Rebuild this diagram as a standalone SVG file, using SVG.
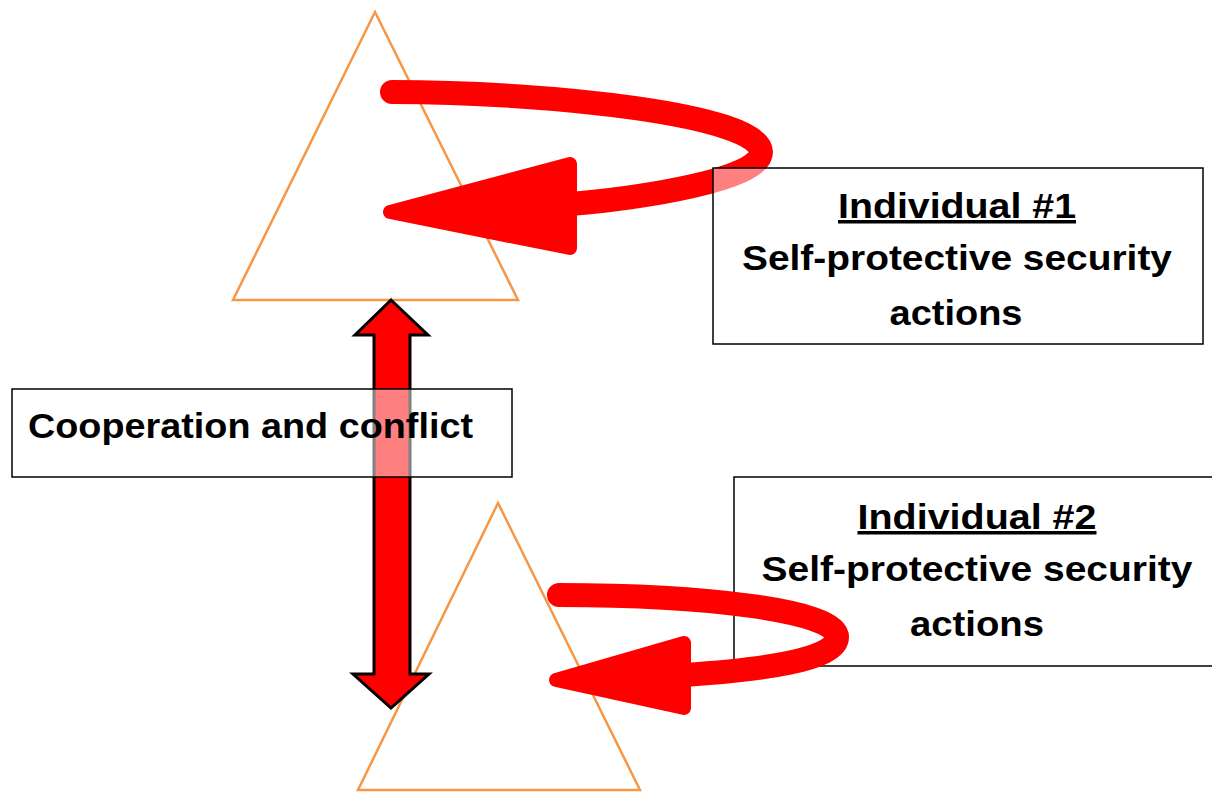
<svg xmlns="http://www.w3.org/2000/svg" width="1212" height="792" viewBox="0 0 1212 792">
<style>
.tri{fill:none;stroke:#F79646;stroke-width:2.5}
.box{fill:#fff;fill-opacity:0.5;stroke:#000;stroke-width:1.5}
.loop{fill:none;stroke:#f00;stroke-width:24;stroke-linecap:round}
.head{fill:#f00;stroke:#f00;stroke-width:14;stroke-linejoin:round}
.dbl{fill:#f00;stroke:#000;stroke-width:3;stroke-linejoin:miter}
text{font-family:"Liberation Sans",Arial,sans-serif;font-weight:bold;font-size:35px;fill:#000}
.c{text-anchor:middle}
</style>
<rect width="1212" height="792" fill="#fff"/>
<g id="triangle1"><polygon class="tri" points="375,12 518,300 233,300"/></g>
<g id="triangle2"><polygon class="tri" points="498,503 640,790 358,790"/></g>
<g id="individual2">
<rect class="box" x="734" y="477" width="490" height="189"/>
<text class="c" x="977" y="529" textLength="239" lengthAdjust="spacingAndGlyphs" text-decoration="underline">Individual #2</text>
<text class="c" x="977" y="581" textLength="431" lengthAdjust="spacingAndGlyphs">Self-protective security</text>
<text class="c" x="977" y="636" textLength="134" lengthAdjust="spacingAndGlyphs">actions</text>
</g>
<g id="connectors">
<g id="loop2">
<path class="loop" d="M 559 595 C 700 595, 837 610, 837 637 C 837 660, 760 670, 684 675"/>
<polygon class="head" points="556,680 684,643 684,708"/>
</g>
<g id="loop1">
<path class="loop" d="M 392 92 C 550 92, 761 115, 761 152 C 761 180, 640 198, 570 204"/>
<polygon class="head" points="390,212 570,164 570,248"/>
</g>
</g>
<g id="individual1">
<rect class="box" x="713" y="168" width="490" height="176"/>
<text class="c" x="957" y="218" textLength="238" lengthAdjust="spacingAndGlyphs" text-decoration="underline">Individual #1</text>
<text class="c" x="957" y="270" textLength="430" lengthAdjust="spacingAndGlyphs">Self-protective security</text>
<text class="c" x="956" y="325" textLength="133" lengthAdjust="spacingAndGlyphs">actions</text>
</g>
<g id="double-arrow">
<polygon class="dbl" points="391,300 428,335 410,335 410,674 429,674 391,708 353,674 374,674 374,335 355,335"/>
</g>
<g id="cooperation">
<rect class="box" x="12" y="389" width="500" height="88"/>
<text x="28" y="438" textLength="445" lengthAdjust="spacingAndGlyphs">Cooperation and conflict</text>
</g>
</svg>
